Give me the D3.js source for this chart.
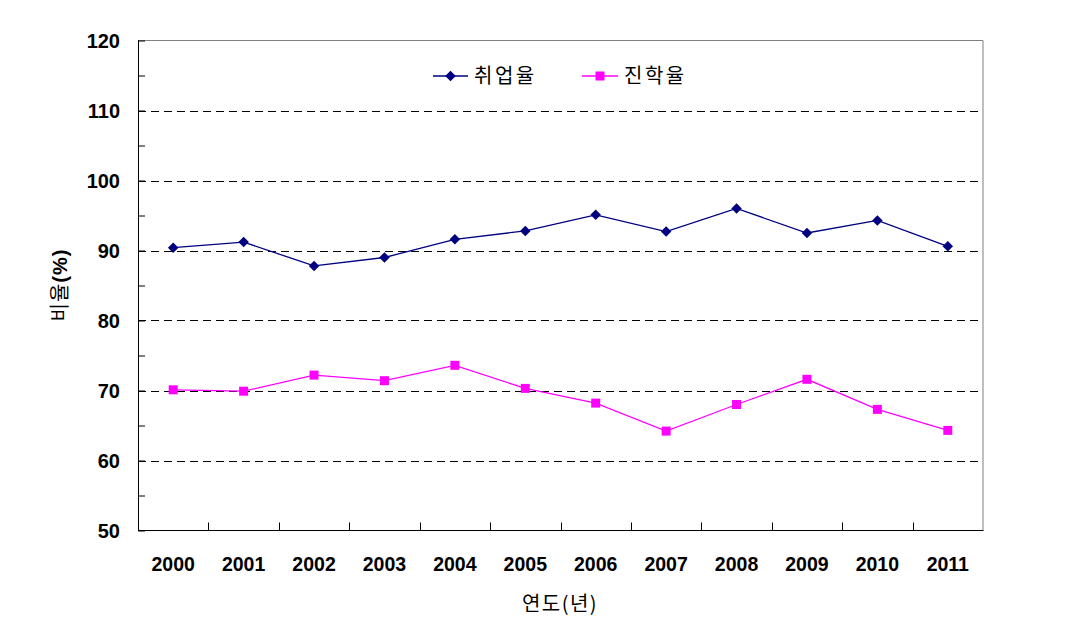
<!DOCTYPE html>
<html>
<head>
<meta charset="utf-8">
<script src="https://cdn.jsdelivr.net/npm/d3@7"></script>
<style>
  html, body { margin: 0; padding: 0; background: #fff; }
  svg { display: block; }
</style>
</head>
<body>
<svg id="chart" width="1081" height="643"></svg>
<script>
const years = ["2000","2001","2002","2003","2004","2005","2006","2007","2008","2009","2010","2011"];
const employment = [90.4, 91.2, 87.8, 89.0, 91.6, 92.8, 95.1, 92.7, 96.0, 92.5, 94.3, 90.6];
const advancement = [70.1, 69.9, 72.2, 71.4, 73.6, 70.3, 68.2, 64.2, 68.0, 71.6, 67.3, 64.3];
const seriesNames = ["취업율", "진학율"];
const yTicks = [50, 60, 70, 80, 90, 100, 110, 120];
const yMinorTicks = [55, 65, 75, 85, 95, 105, 115];
const gridValues = [60, 70, 80, 90, 100, 110];
const yTitle = "비율";
const yTitleUnit = "(%)";
const xTitleMain = "연도";
const xTitleUnit = "(년)";

(function () {
const svg = d3.select("#chart");
const pL = 138, pR = 983, pT = 40.5, pB = 530.5;

const x = d3.scaleBand().domain(years).range([pL, pR]).paddingInner(0).paddingOuter(0);
const y = d3.scaleLinear().domain([50, 120]).range([pB, pT]);

// gridlines
svg.append("g").selectAll("line").data(gridValues).join("line")
  .attr("x1", pL).attr("x2", pR)
  .attr("y1", d => Math.round(y(d)) + 0.5).attr("y2", d => Math.round(y(d)) + 0.5)
  .attr("stroke", "#000").attr("stroke-width", 1)
  .attr("stroke-dasharray", "8,5");

// plot border top/right gray
svg.append("line").attr("x1", pL).attr("x2", pR).attr("y1", pT).attr("y2", pT)
  .attr("stroke", "#808080").attr("stroke-width", 1);
svg.append("line").attr("x1", pR).attr("x2", pR).attr("y1", pT).attr("y2", pB)
  .attr("stroke", "#808080").attr("stroke-width", 1);

// y axis (ticks inside)
const yAxis = d3.axisRight(y).tickValues(yTicks.concat(yMinorTicks)).tickSize(7).tickFormat("");
const gy = svg.append("g").attr("transform", `translate(${pL},0)`).call(yAxis);
gy.select(".domain").attr("stroke", "#000").attr("d", `M0.5,${pT}V${pB}`);
gy.selectAll(".tick line").attr("stroke", "#000");

// y labels
svg.append("g").selectAll("text").data(yTicks).join("text")
  .attr("x", 120).attr("y", d => y(d))
  .attr("dy", "0.36em")
  .attr("text-anchor", "end")
  .attr("font-family", "Liberation Sans, Arial, sans-serif")
  .attr("font-weight", "bold").attr("font-size", 20)
  .attr("fill", "#000")
  .text(d => d);

// x axis (ticks inside, at band boundaries)
const boundaries = years.slice(1).map(d => x(d));
svg.append("line").attr("x1", pL).attr("x2", pR + 0.5).attr("y1", pB).attr("y2", pB)
  .attr("stroke", "#000").attr("stroke-width", 1.2);
svg.append("g").selectAll("line").data(boundaries).join("line")
  .attr("x1", d => Math.round(d) + 0.5).attr("x2", d => Math.round(d) + 0.5)
  .attr("y1", pB).attr("y2", pB - 8)
  .attr("stroke", "#000");

// x labels
svg.append("g").selectAll("text").data(years).join("text")
  .attr("x", d => x(d) + x.bandwidth() / 2).attr("y", 571)
  .attr("text-anchor", "middle")
  .attr("font-family", "Liberation Sans, Arial, sans-serif")
  .attr("font-weight", "bold").attr("font-size", 19.5)
  .attr("fill", "#000")
  .text(d => d);

// axis titles
const yt = svg.append("text")
  .attr("transform", "translate(67,285) rotate(-90)")
  .attr("text-anchor", "middle")
  .attr("font-family", "Noto Sans CJK KR, sans-serif")
  .attr("font-size", 20)
  .attr("letter-spacing", 1)
  .attr("fill", "#000");
yt.append("tspan").text(yTitle);
yt.append("tspan").attr("font-weight", "bold").attr("font-family", "Liberation Sans, Arial, sans-serif").text(yTitleUnit);

const xt = svg.append("text")
  .attr("x", 560).attr("y", 611)
  .attr("text-anchor", "middle")
  .attr("font-family", "Noto Sans CJK KR, sans-serif")
  .attr("font-size", 20)
  .attr("letter-spacing", 1.5)
  .attr("fill", "#000");
xt.append("tspan").text(xTitleMain);
xt.append("tspan").text(xTitleUnit);

const cx = d => x(d) + x.bandwidth() / 2;
const line = d3.line().x((d, i) => cx(years[i])).y(d => y(d));

const navy = "#000080", magenta = "#FF00FF";
// series 1 (navy, diamonds)
svg.append("path").datum(employment).attr("d", line)
  .attr("fill", "none").attr("stroke", navy).attr("stroke-width", 1.3);
const diamond = d3.symbol().type(d3.symbolDiamond2).size(70);
svg.append("g").selectAll("path").data(employment).join("path")
  .attr("transform", (d, i) => `translate(${cx(years[i])},${y(d)})`)
  .attr("d", diamond).attr("fill", navy);

// series 2 (magenta, squares)
svg.append("path").datum(advancement).attr("d", line)
  .attr("fill", "none").attr("stroke", magenta).attr("stroke-width", 1.3);
svg.append("g").selectAll("rect").data(advancement).join("rect")
  .attr("x", (d, i) => cx(years[i]) - 4.5).attr("y", d => y(d) - 4.5)
  .attr("width", 9).attr("height", 9).attr("fill", magenta);

// legend
const legendY = 76;
const lg = svg.append("g");
lg.append("line").attr("x1", 433).attr("x2", 468).attr("y1", legendY).attr("y2", legendY)
  .attr("stroke", navy).attr("stroke-width", 1.3);
lg.append("path").attr("transform", `translate(450.5,${legendY})`).attr("d", diamond).attr("fill", navy);
lg.append("text").attr("x", 474).attr("y", legendY).attr("dy", "0.36em")
  .attr("font-family", "Noto Sans CJK KR, sans-serif").attr("font-size", 20)
  .attr("letter-spacing", 2.5).attr("fill", "#000").text(seriesNames[0]);

lg.append("line").attr("x1", 582).attr("x2", 618).attr("y1", legendY).attr("y2", legendY)
  .attr("stroke", magenta).attr("stroke-width", 1.3);
lg.append("rect").attr("x", 600 - 4.5).attr("y", legendY - 4.5).attr("width", 9).attr("height", 9).attr("fill", magenta);
lg.append("text").attr("x", 624).attr("y", legendY).attr("dy", "0.36em")
  .attr("font-family", "Noto Sans CJK KR, sans-serif").attr("font-size", 20)
  .attr("letter-spacing", 2.5).attr("fill", "#000").text(seriesNames[1]);
})();
</script>
</body>
</html>
